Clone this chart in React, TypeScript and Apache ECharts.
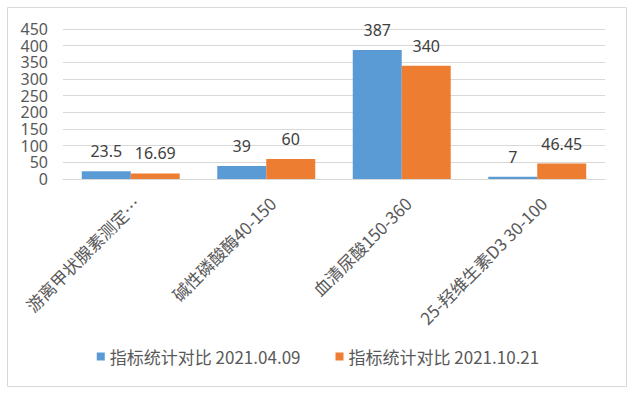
import React, { useEffect, useRef } from "react";
import * as echarts from "echarts";

const categories = ["游离甲状腺素测定…", "碱性磷酸酶40-150", "血清尿酸150-360", "25-羟维生素D3 30-100"];
const seriesNames = ["指标统计对比 2021.04.09", "指标统计对比 2021.10.21"];
const valuesApr = [23.5, 39, 387, 7];
const valuesOct = [16.69, 60, 340, 46.45];
const yMin = 0;
const yMax = 450;
const yInterval = 50;

const FONT = "'Noto Sans CJK SC', 'Noto Sans', sans-serif";
const NUM_FONT = "'Noto Sans', 'Noto Sans CJK SC', sans-serif";
const GRAY_TEXT = "#595959";
const GRID_COLOR = "#d9d9d9";

export default function App() {
  const ref = useRef<HTMLDivElement>(null);
  useEffect(() => {
    if (!ref.current) return;
    const chart = echarts.init(ref.current, undefined, { renderer: "svg" });
    const labelStyle = {
      show: true,
      position: "top" as const,
      distance: 12,
      fontSize: 16,
      fontFamily: NUM_FONT,
      color: "#404040",
    };
    chart.setOption({
      animation: false,
      backgroundColor: "#ffffff",
      textStyle: { fontFamily: FONT },
      graphic: [
        {
          type: "rect",
          silent: true,
          shape: { x: 7.5, y: 7.5, width: 619, height: 379 },
          style: { fill: "none", stroke: GRID_COLOR, lineWidth: 1 },
        },
      ],
      grid: { left: 63, right: 31, top: 29, bottom: 217, containLabel: false },
      legend: {
        bottom: 26,
        left: "center",
        icon: "rect",
        itemWidth: 8,
        itemHeight: 8,
        itemGap: 35,
        textStyle: { fontSize: 17, color: GRAY_TEXT, fontFamily: FONT },
        data: seriesNames,
      },
      xAxis: {
        type: "category",
        data: categories,
        axisLine: { lineStyle: { color: GRID_COLOR, width: 1 } },
        axisTick: { show: false },
        axisLabel: {
          interval: 0,
          rotate: 45,
          fontSize: 17,
          color: GRAY_TEXT,
          fontFamily: FONT,
          margin: 15,
          verticalAlign: "top",
        },
      },
      yAxis: {
        type: "value",
        min: yMin,
        max: yMax,
        interval: yInterval,
        axisLine: { show: false },
        axisTick: { show: false },
        axisLabel: {
          fontSize: 16,
          lineHeight: 16,
          color: GRAY_TEXT,
          fontFamily: NUM_FONT,
          margin: 15,
          showMinLabel: true,
          showMaxLabel: true,
        },
        splitLine: { lineStyle: { color: GRID_COLOR, width: 1 } },
      },
      series: [
        {
          name: seriesNames[0],
          type: "bar",
          data: valuesApr,
          itemStyle: { color: "#5B9BD5" },
          barGap: "0%",
          barCategoryGap: "27.7%",
          label: labelStyle,
        },
        {
          name: seriesNames[1],
          type: "bar",
          data: valuesOct,
          itemStyle: { color: "#ED7D31" },
          barGap: "0%",
          barCategoryGap: "27.7%",
          label: labelStyle,
        },
      ],
    });
    return () => chart.dispose();
  }, []);
  return (
    <div
      ref={ref}
      style={{ position: "absolute", left: 0, top: 0, width: 636, height: 396 }}
    />
  );
}
